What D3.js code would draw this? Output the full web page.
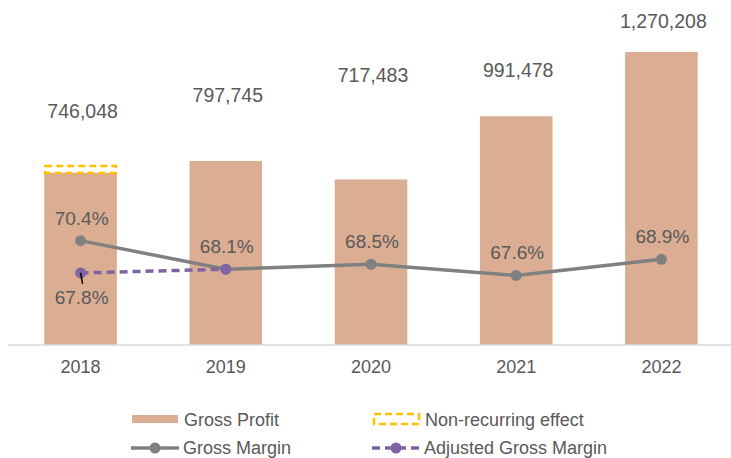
<!DOCTYPE html>
<html>
<head>
<meta charset="utf-8">
<script src="https://cdn.jsdelivr.net/npm/d3@7"></script>
<style>
  body { margin: 0; background: #fff; }
  text { font-family: "Liberation Sans", Arial, sans-serif; fill: #595959; }
</style>
</head>
<body>
<div class="svg-container"></div>
<script>
// chart data
var years = ['2018', '2019', '2020', '2021', '2022'];
var grossProfit = [746048, 797745, 717483, 991478, 1270208];
var nonRecurring = [30000, 0, 0, 0, 0];          // one-off effect stacked on 2018 only
var grossMargin = [70.4, 68.1, 68.5, 67.6, 68.9];
var adjustedMargin = [67.8, 68.1];               // 2018 adjusted, joins 2019 actual

// hand placement of the value labels (px above the top of each stack)
var labelLift = [48, 59, 97, 39, 24];

var svgWidth = 731, svgHeight = 458;
var baseY = 345, topY = 22;

var svg = d3.select('.svg-container').append('svg')
  .attr('width', svgWidth)
  .attr('height', svgHeight);

var x = d3.scaleBand().domain(years).range([8, 734]).paddingInner(0.5).paddingOuter(0.25);
var y = d3.scaleLinear().domain([0, 1400000]).range([baseY, topY]);
var y2 = d3.scaleLinear().domain([62, 88]).range([baseY, topY]);

var fmt = d3.format(',');
var cx = function(i){ return x(years[i]) + x.bandwidth()/2; };

// bars
svg.append('g').selectAll('rect').data(grossProfit).enter().append('rect')
  .attr('x', function(d, i){ return x(years[i]); })
  .attr('y', function(d){ return y(d); })
  .attr('width', x.bandwidth())
  .attr('height', function(d){ return baseY - y(d); })
  .attr('fill', '#DBAE94');

// non-recurring segment
svg.append('g').selectAll('rect').data(nonRecurring.map(function(d, i){ return {v:d, i:i}; }).filter(function(d){ return d.v > 0; }))
  .enter().append('rect')
  .attr('x', function(d){ return x(years[d.i]) + 1; })
  .attr('y', function(d){ return y(grossProfit[d.i] + d.v); })
  .attr('width', x.bandwidth() - 2)
  .attr('height', function(d){ return y(grossProfit[d.i]) - y(grossProfit[d.i] + d.v); })
  .attr('fill', 'none')
  .attr('stroke', '#FFC000')
  .attr('stroke-width', 2.5)
  .attr('stroke-dasharray', '7,4');

// axis line + year labels
svg.append('line')
  .attr('x1', 8).attr('x2', svgWidth)
  .attr('y1', baseY).attr('y2', baseY)
  .attr('stroke', '#D9D9D9').attr('stroke-width', 1.5);

svg.append('g').selectAll('text').data(years).enter().append('text')
  .attr('x', function(d){ return x(d) + x.bandwidth()/2; })
  .attr('y', 373)
  .attr('text-anchor', 'middle')
  .style('font-size', '18px')
  .text(function(d){ return d; });

// value labels
svg.append('g').selectAll('text').data(grossProfit).enter().append('text')
  .attr('x', function(d, i){ return cx(i) + 2; })
  .attr('y', function(d, i){ return y(d + nonRecurring[i]) - labelLift[i]; })
  .attr('text-anchor', 'middle')
  .style('font-size', '19.5px')
  .text(function(d){ return fmt(d); });

// margin lines
var line = d3.line().x(function(d){ return cx(d.i); }).y(function(d){ return y2(d.v); });
var adj = adjustedMargin.map(function(d, i){ return {v:d, i:i}; });
var gm = grossMargin.map(function(d, i){ return {v:d, i:i}; });

svg.append('path').datum(gm)
  .attr('d', line)
  .attr('fill', 'none')
  .attr('stroke', '#808080')
  .attr('stroke-width', 3.5);

svg.append('g').selectAll('circle').data(gm).enter().append('circle')
  .attr('cx', function(d){ return cx(d.i); })
  .attr('cy', function(d){ return y2(d.v); })
  .attr('r', 5.5)
  .attr('fill', '#808080');

svg.append('path').datum(adj)
  .attr('d', line)
  .attr('fill', 'none')
  .attr('stroke', '#8064A2')
  .attr('stroke-width', 3.5)
  .attr('stroke-dasharray', '8,5');

svg.append('g').selectAll('circle').data(adj).enter().append('circle')
  .attr('cx', function(d){ return cx(d.i); })
  .attr('cy', function(d){ return y2(d.v); })
  .attr('r', 5.5)
  .attr('fill', '#8064A2');

// margin labels
svg.append('g').selectAll('text').data(gm).enter().append('text')
  .attr('x', function(d){ return cx(d.i) + 1; })
  .attr('y', function(d){ return y2(d.v) - 16; })
  .attr('text-anchor', 'middle')
  .style('font-size', '19px')
  .text(function(d){ return d.v.toFixed(1) + '%'; });

svg.append('text')
  .attr('x', cx(0) + 1)
  .attr('y', y2(adjustedMargin[0]) + 31)
  .attr('text-anchor', 'middle')
  .style('font-size', '19px')
  .text(adjustedMargin[0].toFixed(1) + '%');

// little leader from the 67.8% label
svg.append('line')
  .attr('x1', cx(0)).attr('y1', y2(adjustedMargin[0]))
  .attr('x2', cx(0) + 2).attr('y2', y2(adjustedMargin[0]) + 11)
  .attr('stroke', '#000').attr('stroke-width', 1.5);

// legend
var legend = svg.append('g');
var items = [
  {label:'Gross Profit', kind:'bar', x:132, y:426},
  {label:'Non-recurring effect', kind:'box', x:373, y:426},
  {label:'Gross Margin', kind:'line', x:131, y:454},
  {label:'Adjusted Gross Margin', kind:'dash', x:372, y:454}
];
items.forEach(function(it){
  var g = legend.append('g').attr('transform', 'translate(' + it.x + ',' + it.y + ')');
  if (it.kind == 'bar') {
    g.append('rect').attr('x', 0).attr('y', -11).attr('width', 46).attr('height', 8).attr('fill', '#DBAE94');
  } else if (it.kind == 'box') {
    g.append('rect').attr('x', 1).attr('y', -12).attr('width', 45).attr('height', 10)
      .attr('fill', 'none').attr('stroke', '#FFC000').attr('stroke-width', 2.5).attr('stroke-dasharray', '7,4');
  } else {
    var col = it.kind == 'line' ? '#808080' : '#8064A2';
    g.append('line').attr('x1', 0).attr('x2', 48).attr('y1', -6).attr('y2', -6)
      .attr('stroke', col).attr('stroke-width', 3.5)
      .attr('stroke-dasharray', it.kind == 'dash' ? '8,5' : null);
    g.append('circle').attr('cx', 24).attr('cy', -6).attr('r', 5.5).attr('fill', col);
  }
  g.append('text').attr('x', 52).attr('y', 0).style('font-size', '18px').text(it.label);
});
</script>
</body>
</html>
